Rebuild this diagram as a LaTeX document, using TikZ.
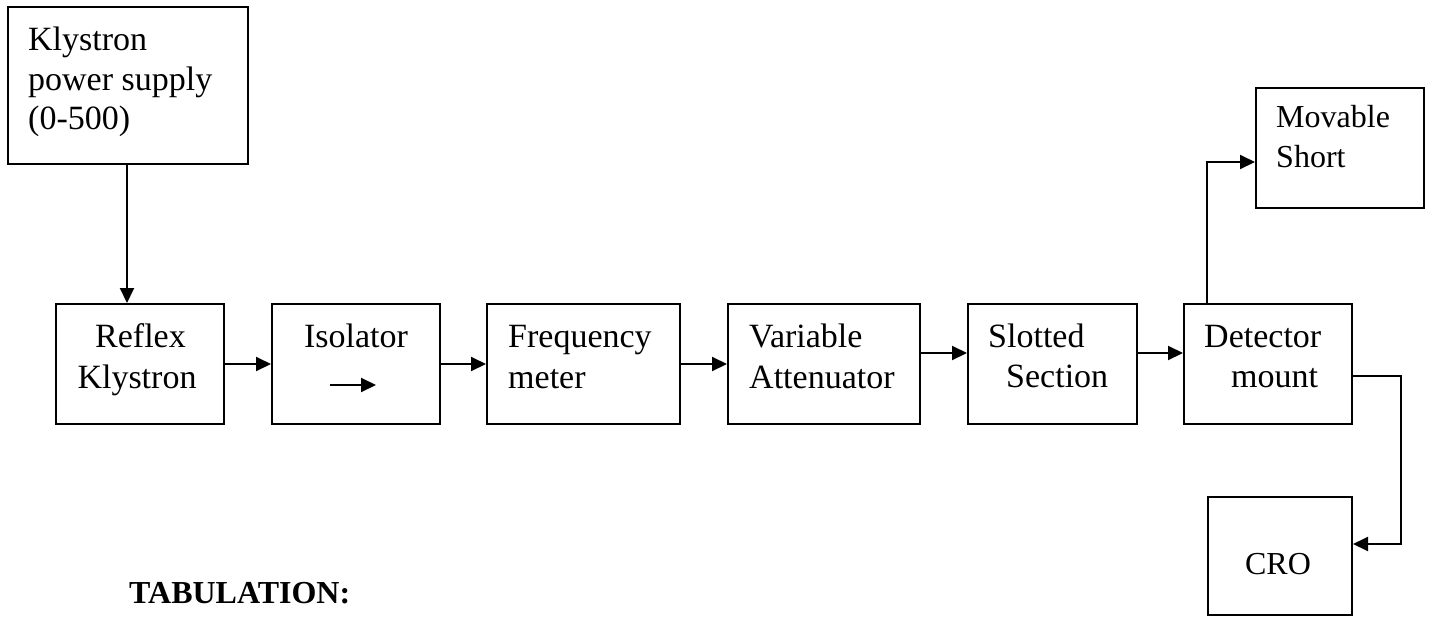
\documentclass[tikz,border=0pt]{standalone}
\usepackage{fontspec}
\setmainfont{Liberation Serif}
\usetikzlibrary{arrows.meta}

\begin{document}
\begin{tikzpicture}[x=1pt,y=-1pt,
  box/.style={draw=black,line width=2pt,rectangle,inner sep=0pt},
  arr/.style={line width=2pt,-{Triangle[length=15pt,width=14pt]}},
  lbl/.style={anchor=base west,inner sep=0pt,font=\fontsize{34}{40}\selectfont},
  lblc/.style={anchor=base,inner sep=0pt,font=\fontsize{34}{40}\selectfont},
  lbls/.style={anchor=base west,inner sep=0pt,font=\fontsize{32}{38}\selectfont}]
\useasboundingbox (0,0) rectangle (1430,616);

% blocks
\node[box,minimum width=240pt,minimum height=157pt] (ps)  at (128,85.5) {};
\node[box,minimum width=168pt,minimum height=120pt] (rk)  at (140,364) {};
\node[box,minimum width=168pt,minimum height=120pt] (iso) at (356,364) {};
\node[box,minimum width=193pt,minimum height=120pt] (fm)  at (583.5,364) {};
\node[box,minimum width=192pt,minimum height=120pt] (va)  at (824,364) {};
\node[box,minimum width=169pt,minimum height=120pt] (ss)  at (1052.5,364) {};
\node[box,minimum width=168pt,minimum height=120pt] (dm)  at (1268,364) {};
\node[box,minimum width=168pt,minimum height=120pt] (ms)  at (1340,148) {};
\node[box,minimum width=144pt,minimum height=118pt] (cro) at (1280,556) {};

% block texts
\node[lbl] (ps1) at (28,50) {Klystron};
\node[lbl] (ps2) at (28,90) {power supply};
\node[lbl] (ps3) at (28,129) {(0-500)};
\node[lblc] (rk1) at (140.5,347) {Reflex};
\node[lblc] (rk2) at (137,388) {Klystron};
\node[lblc] (iso1) at (356,347) {Isolator};
\node[lbl] (fm1) at (508,347) {Frequency};
\node[lbl] (fm2) at (508,388) {meter};
\node[lbl] (va1) at (749,347) {Variable};
\node[lbl] (va2) at (749,388) {Attenuator};
\node[lbl] (ss1) at (988,347) {Slotted};
\node[lbl] (ss2) at (1006,387) {Section};
\node[lbl] (dm1) at (1204,347) {Detector};
\node[lbl] (dm2) at (1231,387) {mount};
\node[lbls] (ms1) at (1276,127) {Movable};
\node[lbls] (ms2) at (1276,167) {Short};
\node[lbls,anchor=base] (cro1) at (1278,574) {CRO};
\node[lbls] (tab) at (129,603) {\bfseries TABULATION:};

% direction mark inside the isolator
\coordinate (isoa) at (330,385);
\coordinate (isob) at (376,385);
\draw[arr] (isoa) -- (isob);

% connectors
\draw[arr] ([xshift=120pt]ps.south west) -- ([xshift=72pt]rk.north west);
\draw[arr] (rk.east) -- (iso.west);
\draw[arr] (iso.east) -- (fm.west);
\draw[arr] (fm.east) -- (va.west);
\draw[arr] ([yshift=11pt]va.east) -- ([yshift=11pt]ss.west);
\draw[arr] ([yshift=11pt]ss.east) -- ([yshift=11pt]dm.west);
\draw[arr] ([xshift=24pt]dm.north west) |- ([yshift=-14pt]ms.west);
\draw[arr] ([yshift=-12pt]dm.east) -- ++(48,0) |- ([yshift=12pt]cro.east);
\end{tikzpicture}
\end{document}
